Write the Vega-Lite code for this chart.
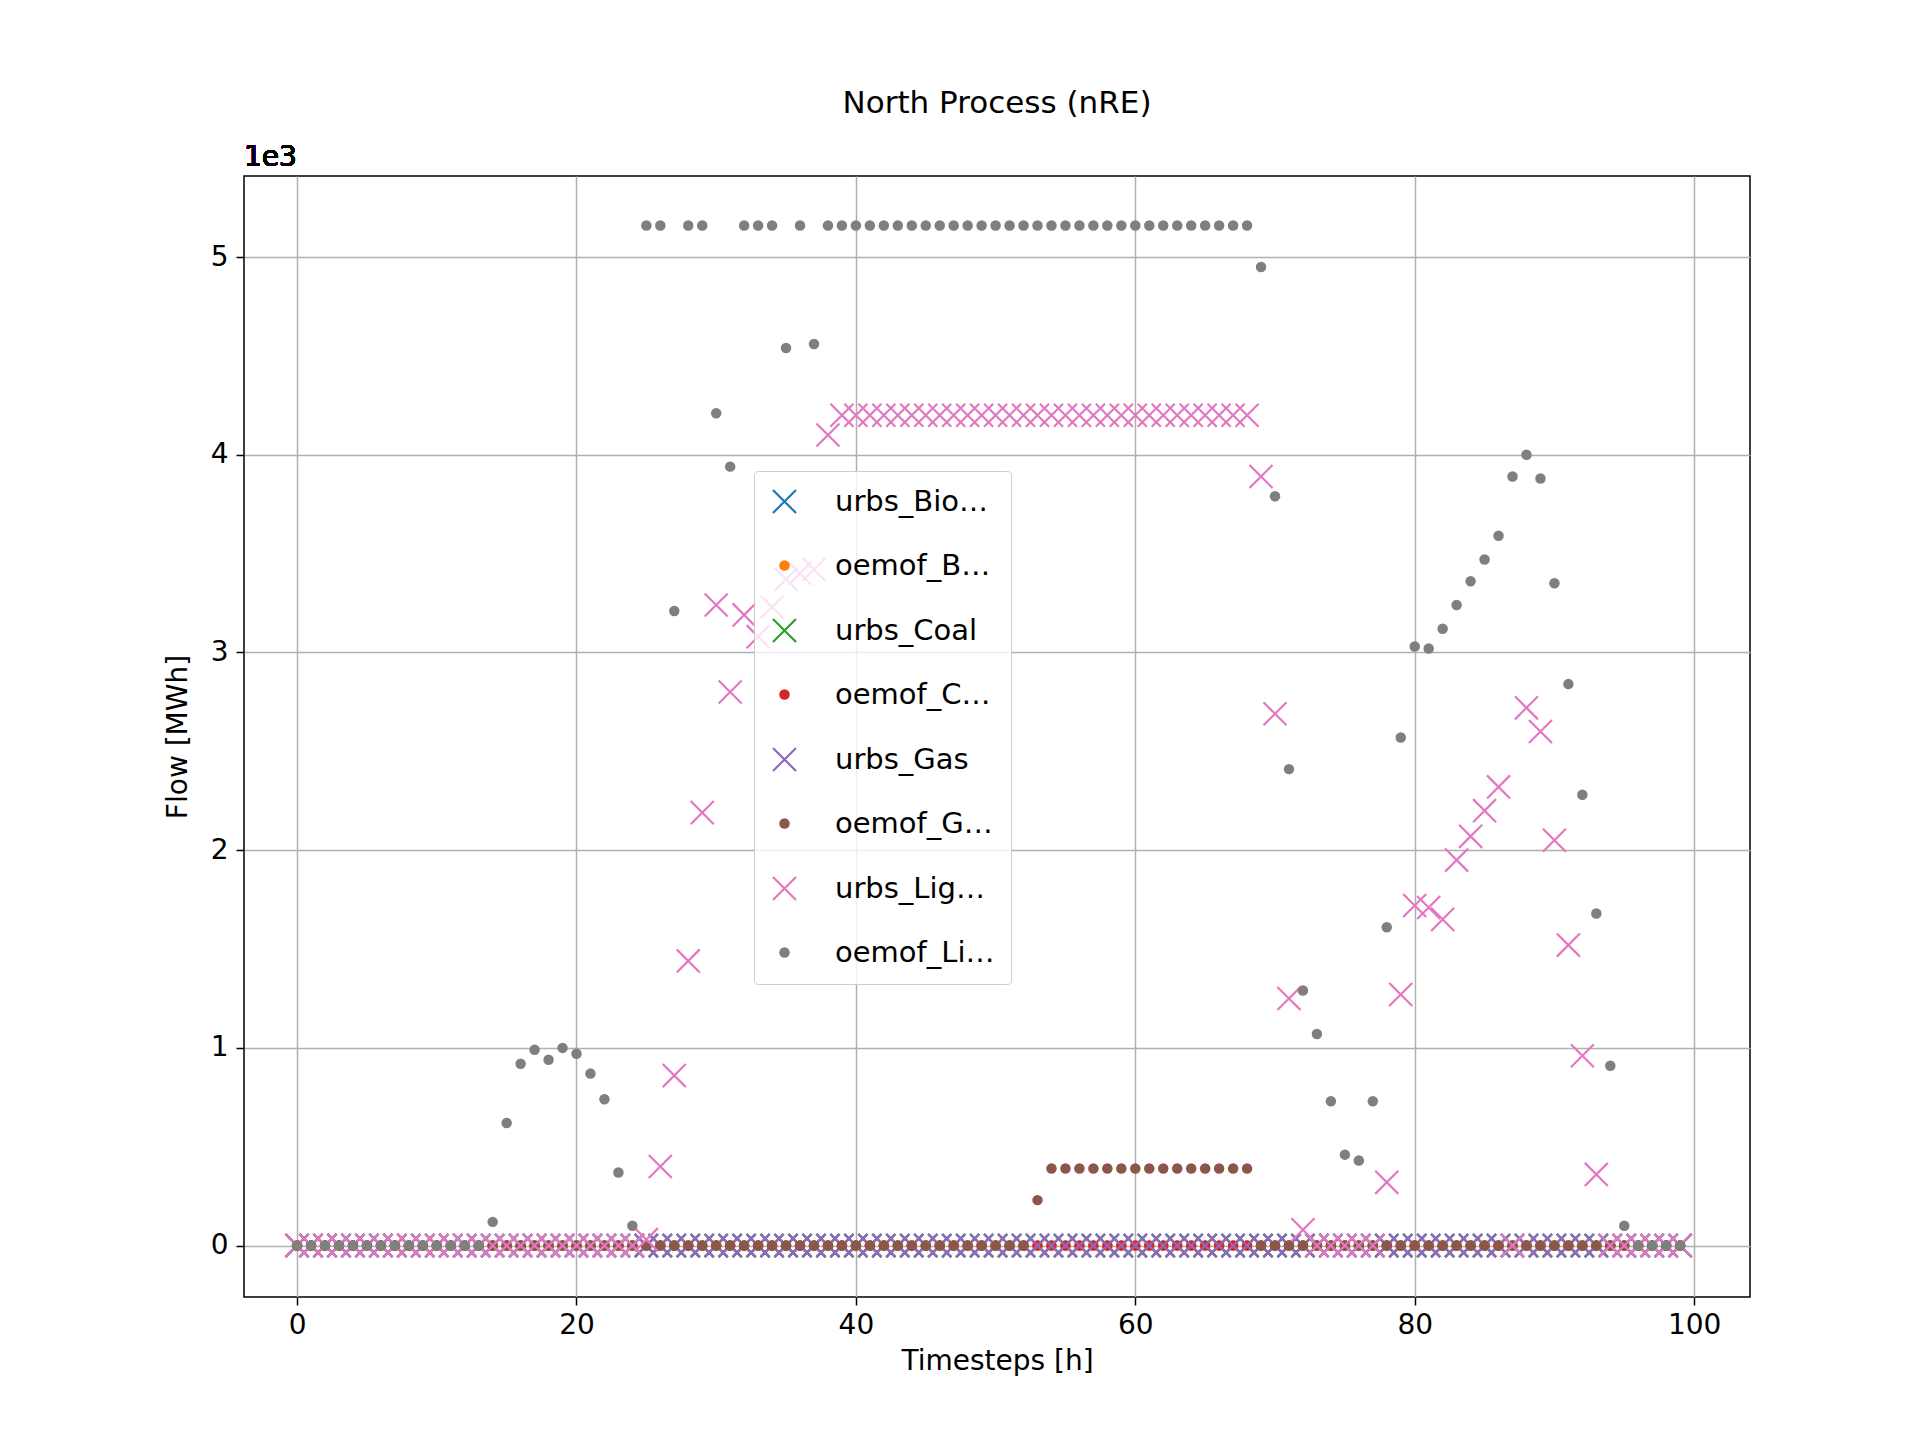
{
"$schema":"https://vega.github.io/schema/vega-lite/v6.json",
"width":1506,"height":1121,"autosize":"none",
"padding":{"left":244,"top":176,"right":170,"bottom":143},
"background":"white",
"config":{"font":"DejaVu Sans","view":{"stroke":"black","strokeWidth":1.5}},
"title":{"text":"North Process (nRE)","fontSize":31,"fontWeight":"normal","offset":24,"color":"black"},
"data":{"values":[
{"t":0,"a":0,"b":0,"c":0,"d":0,"e":0,"g":0,"h":0,"f":0},{"t":1,"a":0,"b":0,"c":0,"d":0,"e":0,"g":0,"h":0,"f":0},{"t":2,"a":0,"b":0,"c":0,"d":0,"e":0,"g":0,"h":0,"f":0},{"t":3,"a":0,"b":0,"c":0,"d":0,"e":0,"g":0,"h":0,"f":0},{"t":4,"a":0,"b":0,"c":0,"d":0,"e":0,"g":0,"h":0,"f":0},{"t":5,"a":0,"b":0,"c":0,"d":0,"e":0,"g":0,"h":0,"f":0},{"t":6,"a":0,"b":0,"c":0,"d":0,"e":0,"g":0,"h":0,"f":0},{"t":7,"a":0,"b":0,"c":0,"d":0,"e":0,"g":0,"h":0,"f":0},{"t":8,"a":0,"b":0,"c":0,"d":0,"e":0,"g":0,"h":0,"f":0},{"t":9,"a":0,"b":0,"c":0,"d":0,"e":0,"g":0,"h":0,"f":0},
{"t":10,"a":0,"b":0,"c":0,"d":0,"e":0,"g":0,"h":0,"f":0},{"t":11,"a":0,"b":0,"c":0,"d":0,"e":0,"g":0,"h":0,"f":0},{"t":12,"a":0,"b":0,"c":0,"d":0,"e":0,"g":0,"h":0,"f":0},{"t":13,"a":0,"b":0,"c":0,"d":0,"e":0,"g":0,"h":0,"f":0},{"t":14,"a":0,"b":0,"c":0,"d":0,"e":0,"g":0,"h":0.12,"f":0},{"t":15,"a":0,"b":0,"c":0,"d":0,"e":0,"g":0,"h":0.62,"f":0},{"t":16,"a":0,"b":0,"c":0,"d":0,"e":0,"g":0,"h":0.92,"f":0},{"t":17,"a":0,"b":0,"c":0,"d":0,"e":0,"g":0,"h":0.99,"f":0},{"t":18,"a":0,"b":0,"c":0,"d":0,"e":0,"g":0,"h":0.94,"f":0},{"t":19,"a":0,"b":0,"c":0,"d":0,"e":0,"g":0,"h":1.0,"f":0},
{"t":20,"a":0,"b":0,"c":0,"d":0,"e":0,"g":0,"h":0.97,"f":0},{"t":21,"a":0,"b":0,"c":0,"d":0,"e":0,"g":0,"h":0.87,"f":0},{"t":22,"a":0,"b":0,"c":0,"d":0,"e":0,"g":0,"h":0.74,"f":0},{"t":23,"a":0,"b":0,"c":0,"d":0,"e":0,"g":0,"h":0.37,"f":0},{"t":24,"a":0,"b":0,"c":0,"d":0,"e":0,"g":0,"h":0.1,"f":0},{"t":25,"a":0,"b":0,"c":0,"d":0,"e":0,"g":0.03,"h":5.16,"f":0},{"t":26,"a":0,"b":0,"c":0,"d":0,"e":0,"g":0.4,"h":5.16,"f":0},{"t":27,"a":0,"b":0,"c":0,"d":0,"e":0,"g":0.86,"h":3.21,"f":0},{"t":28,"a":0,"b":0,"c":0,"d":0,"e":0,"g":1.44,"h":5.16,"f":0},{"t":29,"a":0,"b":0,"c":0,"d":0,"e":0,"g":2.19,"h":5.16,"f":0},
{"t":30,"a":0,"b":0,"c":0,"d":0,"e":0,"g":3.24,"h":4.21,"f":0},{"t":31,"a":0,"b":0,"c":0,"d":0,"e":0,"g":2.8,"h":3.94,"f":0},{"t":32,"a":0,"b":0,"c":0,"d":0,"e":0,"g":3.19,"h":5.16,"f":0},{"t":33,"a":0,"b":0,"c":0,"d":0,"e":0,"g":3.08,"h":5.16,"f":0},{"t":34,"a":0,"b":0,"c":0,"d":0,"e":0,"g":3.23,"h":5.16,"f":0},{"t":35,"a":0,"b":0,"c":0,"d":0,"e":0,"g":3.37,"h":4.54,"f":0},{"t":36,"a":0,"b":0,"c":0,"d":0,"e":0,"g":3.4,"h":5.16,"f":0},{"t":37,"a":0,"b":0,"c":0,"d":0,"e":0,"g":3.42,"h":4.56,"f":0},{"t":38,"a":0,"b":0,"c":0,"d":0,"e":0,"g":4.1,"h":5.16,"f":0},{"t":39,"a":0,"b":0,"c":0,"d":0,"e":0,"g":4.2,"h":5.16,"f":0},
{"t":40,"a":0,"b":0,"c":0,"d":0,"e":0,"g":4.2,"h":5.16,"f":0},{"t":41,"a":0,"b":0,"c":0,"d":0,"e":0,"g":4.2,"h":5.16,"f":0},{"t":42,"a":0,"b":0,"c":0,"d":0,"e":0,"g":4.2,"h":5.16,"f":0},{"t":43,"a":0,"b":0,"c":0,"d":0,"e":0,"g":4.2,"h":5.16,"f":0},{"t":44,"a":0,"b":0,"c":0,"d":0,"e":0,"g":4.2,"h":5.16,"f":0},{"t":45,"a":0,"b":0,"c":0,"d":0,"e":0,"g":4.2,"h":5.16,"f":0},{"t":46,"a":0,"b":0,"c":0,"d":0,"e":0,"g":4.2,"h":5.16,"f":0},{"t":47,"a":0,"b":0,"c":0,"d":0,"e":0,"g":4.2,"h":5.16,"f":0},{"t":48,"a":0,"b":0,"c":0,"d":0,"e":0,"g":4.2,"h":5.16,"f":0},{"t":49,"a":0,"b":0,"c":0,"d":0,"e":0,"g":4.2,"h":5.16,"f":0},
{"t":50,"a":0,"b":0,"c":0,"d":0,"e":0,"g":4.2,"h":5.16,"f":0},{"t":51,"a":0,"b":0,"c":0,"d":0,"e":0,"g":4.2,"h":5.16,"f":0},{"t":52,"a":0,"b":0,"c":0,"d":0,"e":0,"g":4.2,"h":5.16,"f":0},{"t":53,"a":0,"b":0,"c":0,"d":0,"e":0,"g":4.2,"h":5.16,"f":0.23},{"t":54,"a":0,"b":0,"c":0,"d":0,"e":0,"g":4.2,"h":5.16,"f":0.39},{"t":55,"a":0,"b":0,"c":0,"d":0,"e":0,"g":4.2,"h":5.16,"f":0.39},{"t":56,"a":0,"b":0,"c":0,"d":0,"e":0,"g":4.2,"h":5.16,"f":0.39},{"t":57,"a":0,"b":0,"c":0,"d":0,"e":0,"g":4.2,"h":5.16,"f":0.39},{"t":58,"a":0,"b":0,"c":0,"d":0,"e":0,"g":4.2,"h":5.16,"f":0.39},{"t":59,"a":0,"b":0,"c":0,"d":0,"e":0,"g":4.2,"h":5.16,"f":0.39},
{"t":60,"a":0,"b":0,"c":0,"d":0,"e":0,"g":4.2,"h":5.16,"f":0.39},{"t":61,"a":0,"b":0,"c":0,"d":0,"e":0,"g":4.2,"h":5.16,"f":0.39},{"t":62,"a":0,"b":0,"c":0,"d":0,"e":0,"g":4.2,"h":5.16,"f":0.39},{"t":63,"a":0,"b":0,"c":0,"d":0,"e":0,"g":4.2,"h":5.16,"f":0.39},{"t":64,"a":0,"b":0,"c":0,"d":0,"e":0,"g":4.2,"h":5.16,"f":0.39},{"t":65,"a":0,"b":0,"c":0,"d":0,"e":0,"g":4.2,"h":5.16,"f":0.39},{"t":66,"a":0,"b":0,"c":0,"d":0,"e":0,"g":4.2,"h":5.16,"f":0.39},{"t":67,"a":0,"b":0,"c":0,"d":0,"e":0,"g":4.2,"h":5.16,"f":0.39},{"t":68,"a":0,"b":0,"c":0,"d":0,"e":0,"g":4.2,"h":5.16,"f":0.39},{"t":69,"a":0,"b":0,"c":0,"d":0,"e":0,"g":3.89,"h":4.95,"f":0},
{"t":70,"a":0,"b":0,"c":0,"d":0,"e":0,"g":2.69,"h":3.79,"f":0},{"t":71,"a":0,"b":0,"c":0,"d":0,"e":0,"g":1.25,"h":2.41,"f":0},{"t":72,"a":0,"b":0,"c":0,"d":0,"e":0,"g":0.08,"h":1.29,"f":0},{"t":73,"a":0,"b":0,"c":0,"d":0,"e":0,"g":0,"h":1.07,"f":0},{"t":74,"a":0,"b":0,"c":0,"d":0,"e":0,"g":0,"h":0.73,"f":0},{"t":75,"a":0,"b":0,"c":0,"d":0,"e":0,"g":0,"h":0.46,"f":0},{"t":76,"a":0,"b":0,"c":0,"d":0,"e":0,"g":0,"h":0.43,"f":0},{"t":77,"a":0,"b":0,"c":0,"d":0,"e":0,"g":0,"h":0.73,"f":0},{"t":78,"a":0,"b":0,"c":0,"d":0,"e":0,"g":0.32,"h":1.61,"f":0},{"t":79,"a":0,"b":0,"c":0,"d":0,"e":0,"g":1.27,"h":2.57,"f":0},
{"t":80,"a":0,"b":0,"c":0,"d":0,"e":0,"g":1.72,"h":3.03,"f":0},{"t":81,"a":0,"b":0,"c":0,"d":0,"e":0,"g":1.71,"h":3.02,"f":0},{"t":82,"a":0,"b":0,"c":0,"d":0,"e":0,"g":1.65,"h":3.12,"f":0},{"t":83,"a":0,"b":0,"c":0,"d":0,"e":0,"g":1.95,"h":3.24,"f":0},{"t":84,"a":0,"b":0,"c":0,"d":0,"e":0,"g":2.07,"h":3.36,"f":0},{"t":85,"a":0,"b":0,"c":0,"d":0,"e":0,"g":2.2,"h":3.47,"f":0},{"t":86,"a":0,"b":0,"c":0,"d":0,"e":0,"g":2.32,"h":3.59,"f":0},{"t":87,"a":0,"b":0,"c":0,"d":0,"e":0,"g":0,"h":3.89,"f":0},{"t":88,"a":0,"b":0,"c":0,"d":0,"e":0,"g":2.72,"h":4.0,"f":0},{"t":89,"a":0,"b":0,"c":0,"d":0,"e":0,"g":2.6,"h":3.88,"f":0},
{"t":90,"a":0,"b":0,"c":0,"d":0,"e":0,"g":2.05,"h":3.35,"f":0},{"t":91,"a":0,"b":0,"c":0,"d":0,"e":0,"g":1.52,"h":2.84,"f":0},{"t":92,"a":0,"b":0,"c":0,"d":0,"e":0,"g":0.96,"h":2.28,"f":0},{"t":93,"a":0,"b":0,"c":0,"d":0,"e":0,"g":0.36,"h":1.68,"f":0},{"t":94,"a":0,"b":0,"c":0,"d":0,"e":0,"g":0,"h":0.91,"f":0},{"t":95,"a":0,"b":0,"c":0,"d":0,"e":0,"g":0,"h":0.1,"f":0},{"t":96,"a":0,"b":0,"c":0,"d":0,"e":0,"g":0,"h":0,"f":0},{"t":97,"a":0,"b":0,"c":0,"d":0,"e":0,"g":0,"h":0,"f":0},{"t":98,"a":0,"b":0,"c":0,"d":0,"e":0,"g":0,"h":0,"f":0},{"t":99,"a":0,"b":0,"c":0,"d":0,"e":0,"g":0,"h":0,"f":0}
]},
"transform":[
{"fold":["a","b","c","d","e","f","g","h"],"as":["key","v"]}
],
"layer":[{
"mark":{"type":"point","opacity":1,"strokeWidth":2.2,"size":110},
"encoding":{
"x":{"field":"t","type":"quantitative","scale":{"domain":[-3.8,104],"nice":false,"zero":false},
 "axis":{"title":"Timesteps [h]","values":[0,20,40,60,80,100],"titleFontSize":28,"titleFontWeight":"normal","labelFontSize":28,"titleColor":"black","labelColor":"black","grid":true,"gridColor":"#b0b0b0","gridWidth":1.5,"domain":false,"tickColor":"black","tickSize":8,"tickWidth":1.5,"labelPadding":6,"titlePadding":8}},
"y":{"field":"v","type":"quantitative","scale":{"domain":[-0.26,5.41],"nice":false,"zero":false},
 "axis":{"title":"Flow [MWh]","values":[0,1,2,3,4,5],"format":"d","titleFontSize":28,"titleFontWeight":"normal","labelFontSize":28,"titleColor":"black","labelColor":"black","grid":true,"gridColor":"#b0b0b0","gridWidth":1.5,"domain":false,"tickColor":"black","tickSize":8,"tickWidth":1.5,"labelPadding":8,"titlePadding":18}},
"order":{"field":"key","type":"nominal"},
"shape":{"field":"key","type":"nominal","scale":{"domain":["a","b","c","d","e","f","g","h"],"range":["M-2.2,-2.2L2.2,2.2M-2.2,2.2L2.2,-2.2","circle","M-2.2,-2.2L2.2,2.2M-2.2,2.2L2.2,-2.2","circle","M-2.2,-2.2L2.2,2.2M-2.2,2.2L2.2,-2.2","circle","M-2.2,-2.2L2.2,2.2M-2.2,2.2L2.2,-2.2","circle"]},
 "legend":{"title":null,"orient":"none","legendX":510,"legendY":295,"labelFontSize":29,"labelColor":"black","rowPadding":33,"symbolSize":110,"symbolStrokeWidth":2.2,"padding":16,"labelOffset":36,"fillColor":"rgba(255,255,255,0.8)","strokeColor":"#cccccc","cornerRadius":4,
 "labelExpr":"datum.label=='a'?'urbs_Biomass':datum.label=='b'?'oemof_Biomass':datum.label=='c'?'urbs_Coal':datum.label=='d'?'oemof_Coal':datum.label=='e'?'urbs_Gas':datum.label=='f'?'oemof_Gas':datum.label=='g'?'urbs_Lignite':'oemof_Lignite'"}},
"stroke":{"field":"key","type":"nominal","scale":{"domain":["a","b","c","d","e","f","g","h"],"range":["#1f77b4","rgba(0,0,0,0)","#2ca02c","rgba(0,0,0,0)","#9467bd","rgba(0,0,0,0)","#e377c2","rgba(0,0,0,0)"]}},
"fill":{"field":"key","type":"nominal","scale":{"domain":["a","b","c","d","e","f","g","h"],"range":["rgba(0,0,0,0)","#ff7f0e","rgba(0,0,0,0)","#d62728","rgba(0,0,0,0)","#8c564b","rgba(0,0,0,0)","#7f7f7f"]}}
}},
{"mark":{"type":"text","text":"1e3","fontSize":28,"fontWeight":"normal","align":"left","baseline":"bottom","dy":-4,"color":"black"},
 "encoding":{"x":{"datum":-3.8,"type":"quantitative"},"y":{"datum":5.41,"type":"quantitative"}}}
]
}
